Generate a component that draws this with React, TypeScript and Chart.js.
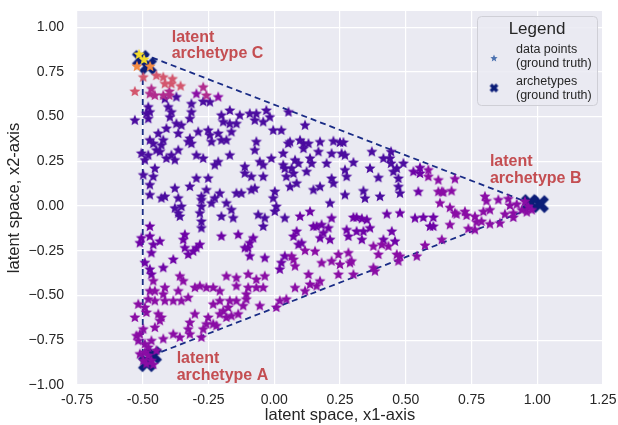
import React, { useEffect, useRef } from 'react';
import { Chart, registerables } from 'chart.js';

Chart.register(...registerables);

type P = [number, number];

// ---------- axes ----------
const xTicks = [-0.75, -0.5, -0.25, 0, 0.25, 0.5, 0.75, 1, 1.25];
const yTicks = [-1, -0.75, -0.5, -0.25, 0, 0.25, 0.5, 0.75, 1];
const xRange: P = [-0.75, 1.25];
const yRange: P = [-1, 1.09];
const xTitle = 'latent space, x1-axis';
const yTitle = 'latent space, x2-axis';

// ---------- archetypes (ground truth) and fitted triangle ----------
const archetypesGT: P[] = [
  [-0.507, 0.822], [-0.48, 0.783],
  [-0.484, -0.878], [-0.461, -0.833],
  [0.972, 0.017], [1.01, 0.011],
];
const triangle: P[] = [[-0.5, 0.85], [1.0, 0.0], [-0.5, -0.855], [-0.5, 0.85]];

// ---------- annotations ----------
const annotationLines = [['latent', 'archetype A'], ['latent', 'archetype B'], ['latent', 'archetype C']];
const annotationX = [-0.371, 0.82, -0.39];
const annotationY = [-0.878, 0.222, 0.917];

// ---------- legend ----------
const legendTitle = 'Legend';
const legendLabels = [['data points', '(ground truth)'], ['archetypes', '(ground truth)']];

// ---------- data points (grouped by colour) ----------
const starsYellow: P[] = [[-0.514, 0.85], [-0.495, 0.822]];
const starsOrange: P[] = [[-0.522, 0.783], [-0.472, 0.783]];
const starsPink: P[] = [
  [-0.498, 0.723], [-0.448, 0.732], [-0.422, 0.723], [-0.387, 0.713], [-0.391, 0.686],
  [-0.356, 0.673], [-0.416, 0.686], [-0.53, 0.643],
];
const starsRose: P[] = [
  [-0.467, 0.658], [-0.473, 0.63], [-0.454, 0.621], [-0.422, 0.621], [-0.399, 0.643],
  [-0.399, 0.621], [-0.27, 0.667], [-0.258, 0.621],
];
const starsIndigo: P[] = [
  [-0.245, 0.584], [-0.27, 0.587], [-0.372, 0.612], [-0.416, 0.602], [-0.479, 0.556],
  [-0.473, 0.528], [-0.486, 0.519], [-0.403, 0.556], [-0.391, 0.528], [-0.397, 0.5],
  [-0.315, 0.574], [-0.315, 0.528], [-0.321, 0.491], [-0.372, 0.463], [-0.353, 0.454],
  [-0.479, 0.491], [-0.53, 0.482], [-0.441, 0.408], [-0.41, 0.436], [-0.365, 0.408],
  [-0.321, 0.38], [-0.289, 0.417], [-0.251, 0.426], [-0.245, 0.399], [-0.239, 0.362],
  [-0.213, 0.408], [-0.201, 0.51], [-0.194, 0.473], [-0.169, 0.537], [-0.169, 0.463],
  [-0.163, 0.417], [-0.182, 0.371], [-0.201, 0.371], [-0.131, 0.51], [-0.144, 0.463],
  [-0.093, 0.519], [-0.068, 0.519], [-0.074, 0.482], [-0.042, 0.473], [-0.03, 0.537],
  [-0.017, 0.5], [-0.004, 0.426], [0.027, 0.426], [-0.473, 0.371], [-0.46, 0.352],
  [-0.429, 0.343], [-0.422, 0.371], [-0.448, 0.315], [-0.435, 0.306], [-0.41, 0.269],
  [-0.391, 0.287], [-0.378, 0.26], [-0.365, 0.315], [-0.327, 0.362], [-0.315, 0.352],
  [-0.296, 0.287], [-0.27, 0.269], [-0.505, 0.297], [-0.479, 0.287], [-0.492, 0.26],
  [-0.454, 0.213], [-0.46, 0.167], [-0.498, 0.176], [-0.473, 0.121], [-0.473, 0.065],
  [-0.213, 0.25], [-0.226, 0.232], [-0.169, 0.287], [-0.112, 0.223], [-0.112, 0.186],
  [-0.087, 0.167], [-0.068, 0.362], [-0.074, 0.315], [-0.055, 0.25], [-0.042, 0.232],
  [-0.042, 0.167], [-0.011, 0.269], [0.04, 0.213], [0.046, 0.167], [0.034, 0.232],
  [0.053, 0.352], [0.034, 0.297], [-0.378, 0.102], [-0.416, 0.056], [-0.429, 0.047],
  [-0.365, 0.047], [-0.378, -0.009], [-0.353, 0.0], [-0.365, -0.037], [-0.359, -0.055],
  [-0.321, 0.112], [-0.296, 0.158], [-0.251, 0.158], [-0.277, 0.056], [-0.277, 0.037],
  [-0.277, 0.0], [-0.283, -0.037], [-0.277, -0.083], [-0.277, -0.12], [-0.258, 0.093],
  [-0.239, 0.019], [-0.226, 0.047], [-0.207, 0.074], [-0.182, 0.019], [-0.201, -0.055],
  [-0.163, -0.018], [-0.156, -0.064], [-0.144, 0.074], [-0.125, 0.074], [-0.087, 0.093],
  [-0.074, 0.102], [-0.061, -0.046], [-0.036, -0.064], [-0.042, -0.111], [0.002, 0.084],
  [-0.004, 0.047], [0.008, 0.0], [0.002, -0.027], [0.04, -0.064],
  [0.117, 0.454], [0.054, 0.528], [0.06, 0.361], [0.098, 0.37], [0.111, 0.352],
  [0.13, 0.352], [0.111, 0.324], [0.174, 0.361], [0.168, 0.306], [0.225, 0.365],
  [0.25, 0.358], [0.263, 0.358], [0.218, 0.296], [0.256, 0.296], [0.269, 0.287],
  [0.079, 0.259], [0.092, 0.241], [0.073, 0.185], [0.085, 0.13], [0.066, 0.213],
  [0.06, 0.111], [0.136, 0.269], [0.142, 0.241], [0.199, 0.241], [0.123, 0.195],
  [0.149, 0.093], [0.174, 0.111], [0.218, 0.157], [0.225, 0.13], [0.269, 0.204],
  [0.275, 0.167], [0.301, 0.246], [0.269, 0.065], [0.212, 0.019], [0.339, 0.087],
  [0.345, 0.046], [0.402, 0.056], [0.364, 0.213], [0.396, 0.161], [0.371, 0.306],
  [0.415, 0.269], [0.444, 0.306], [0.44, 0.269], [0.444, 0.241], [0.453, 0.195],
  [0.466, 0.213], [0.472, 0.157], [0.472, 0.111], [0.478, 0.074], [0.491, 0.241],
];
const starsViolet: P[] = [
  [-0.473, -0.111], [-0.473, -0.166], [-0.505, -0.176], [-0.511, -0.203], [-0.46, -0.213],
  [-0.435, -0.194], [-0.467, -0.259], [-0.34, -0.157], [-0.346, -0.185], [-0.34, -0.231],
  [-0.327, -0.268], [-0.308, -0.25], [-0.296, -0.231], [-0.283, -0.213], [-0.384, -0.296],
  [-0.201, -0.166], [-0.137, -0.157], [-0.08, -0.176], [-0.093, -0.203], [-0.099, -0.231],
  [-0.112, -0.231], [-0.093, -0.277], [-0.036, -0.287], [0.04, -0.277], [-0.492, -0.314],
  [-0.473, -0.351], [-0.467, -0.379], [-0.422, -0.342], [0.021, -0.351], [0.027, -0.314],
  [0.098, -0.055], [0.136, -0.028], [0.085, -0.139], [0.073, -0.167], [0.104, -0.204],
  [0.092, -0.213], [0.149, -0.111], [0.161, -0.111], [0.18, -0.102], [0.187, -0.148],
  [0.174, -0.176], [0.218, -0.065], [0.206, -0.12], [0.212, -0.185], [0.301, -0.061],
  [0.313, -0.061], [0.333, -0.068], [0.352, -0.074], [0.275, -0.13], [0.282, -0.167],
  [0.313, -0.139], [0.339, -0.139], [0.364, -0.12], [0.333, -0.185], [0.428, -0.042],
  [0.478, -0.037], [0.447, -0.139], [0.415, -0.185], [0.459, -0.194], [0.535, -0.065],
  [0.567, -0.061], [0.605, -0.061], [0.592, -0.111], [0.605, -0.111], [0.529, 0.195],
  [0.554, 0.185], [0.554, 0.217], [0.548, 0.083],
];
const starsMagenta: P[] = [
  [-0.296, 0.63], [-0.213, 0.612],
  [-0.46, -0.416], [-0.473, -0.472], [-0.359, -0.389], [-0.346, -0.416], [-0.365, -0.472],
  [-0.327, -0.509], [-0.416, -0.453], [-0.454, -0.472], [-0.422, -0.49], [-0.479, -0.518],
  [-0.492, -0.564], [-0.517, -0.546], [-0.53, -0.62], [-0.486, -0.592], [-0.454, -0.527],
  [-0.416, -0.527], [-0.384, -0.527], [-0.353, -0.527], [-0.302, -0.453], [-0.283, -0.444],
  [-0.258, -0.453], [-0.232, -0.453], [-0.207, -0.472], [-0.182, -0.389], [-0.144, -0.398],
  [-0.144, -0.444], [-0.099, -0.379], [-0.068, -0.407], [-0.036, -0.389], [-0.042, -0.453],
  [-0.068, -0.453], [-0.099, -0.453], [-0.106, -0.49], [-0.106, -0.518], [-0.118, -0.555],
  [-0.144, -0.527], [-0.169, -0.527], [-0.175, -0.564], [-0.194, -0.583], [-0.207, -0.527],
  [-0.232, -0.546], [-0.207, -0.601], [-0.182, -0.62], [-0.251, -0.62], [-0.232, -0.657],
  [-0.258, -0.657], [-0.27, -0.685], [-0.277, -0.731], [-0.302, -0.601], [-0.321, -0.648],
  [-0.327, -0.685], [-0.321, -0.713], [-0.359, -0.731], [-0.384, -0.713], [-0.422, -0.74],
  [-0.441, -0.601], [-0.429, -0.62], [-0.435, -0.638], [-0.454, -0.676], [-0.498, -0.685],
  [-0.511, -0.713], [-0.524, -0.722], [-0.517, -0.75], [-0.492, -0.768], [-0.467, -0.75],
  [-0.479, -0.787], [0.008, -0.564], [0.021, -0.527], [0.046, -0.518], [-0.055, -0.555],
  [-0.137, -0.601], [-0.163, -0.611], [-0.22, -0.666],
  [-0.511, -0.824], [-0.492, -0.815], [-0.479, -0.833], [-0.467, -0.861], [-0.498, -0.861],
  [-0.448, -0.805], [-0.486, -0.879], [-0.46, -0.883],
  [0.117, -0.246], [0.155, -0.25], [0.066, -0.278], [0.073, -0.296], [0.079, -0.333],
  [0.244, -0.268], [0.282, -0.259], [0.288, -0.315], [0.294, -0.305], [0.25, -0.324],
  [0.218, -0.305], [0.18, -0.315], [0.244, -0.38], [0.301, -0.38], [0.377, -0.222],
  [0.409, -0.213], [0.434, -0.222], [0.396, -0.268], [0.377, -0.342], [0.383, -0.361],
  [0.466, -0.268], [0.478, -0.278], [0.472, -0.305], [0.542, -0.278], [0.573, -0.217],
  [0.13, -0.38], [0.136, -0.435], [0.161, -0.444], [0.174, -0.417], [0.117, -0.472],
  [0.079, -0.454], [0.637, -0.185],
  [0.586, 0.204], [0.586, 0.167], [0.624, 0.148], [0.624, 0.083], [0.637, 0.083],
  [0.63, 0.019], [0.687, 0.154], [0.643, 0.08], [0.674, 0.087], [0.668, -0.006],
  [0.687, -0.037], [0.693, -0.043], [0.725, -0.028], [0.731, -0.05], [0.763, -0.056],
  [0.795, -0.028], [0.82, -0.019], [0.801, 0.056], [0.807, 0.031], [0.852, 0.037],
  [0.89, 0.043], [0.896, 0.006], [0.922, 0.013], [0.953, 0.028], [0.966, 0.0],
  [0.941, -0.019], [0.96, -0.031], [0.979, -0.019], [0.877, -0.043], [0.909, -0.037],
  [0.909, -0.061], [0.858, -0.093], [0.82, -0.098], [0.788, -0.083], [0.769, -0.087],
  [0.738, -0.124], [0.763, -0.13], [0.668, -0.102],
];

const FONT = "'Liberation Sans', Arial, Helvetica, sans-serif";
const TEXT = '#262626';
const NAVY = '#0B1D78';
const RED = '#C44E52';

function starCanvas(color: string, r: number): HTMLCanvasElement {
  const size = Math.ceil(r * 2 + 2);
  const c = document.createElement('canvas');
  c.width = size;
  c.height = size;
  const g = c.getContext('2d')!;
  g.translate(size / 2, size / 2 + r * 0.1);
  g.beginPath();
  for (let i = 0; i < 10; i++) {
    const rad = i % 2 === 0 ? r : r * 0.45;
    const ang = -Math.PI / 2 + (i * Math.PI) / 5;
    g.lineTo(rad * Math.cos(ang), rad * Math.sin(ang));
  }
  g.closePath();
  g.fillStyle = color;
  g.fill();
  return c;
}

function xCanvas(color: string, L: number, T: number): HTMLCanvasElement {
  const size = Math.ceil((L / 2 + T / 2) * Math.SQRT2 + 2);
  const c = document.createElement('canvas');
  c.width = size;
  c.height = size;
  const g = c.getContext('2d')!;
  g.translate(size / 2, size / 2);
  g.fillStyle = color;
  for (const a of [Math.PI / 4, -Math.PI / 4]) {
    g.save();
    g.rotate(a);
    g.fillRect(-L / 2, -T / 2, L, T);
    g.restore();
  }
  return c;
}

const toXY = (pts: P[]) => pts.map(([x, y]) => ({ x, y }));

export default function App() {
  const ref = useRef<HTMLCanvasElement | null>(null);

  useEffect(() => {
    document.body.style.margin = '0';
    const canvas = ref.current;
    if (!canvas) return;

    const groups: { pts: P[]; color: string }[] = [
      { pts: starsIndigo, color: '#4B0C9F' },
      { pts: starsViolet, color: '#6D02A6' },
      { pts: starsMagenta, color: '#8A0DA5' },
      { pts: starsRose, color: '#B02C8E' },
      { pts: starsPink, color: '#D3566D' },
      { pts: starsOrange, color: '#F28B44' },
      { pts: starsYellow, color: '#F4DC2C' },
    ];

    const archImg = xCanvas(NAVY, 19, 6.5);

    const datasets: any[] = [
      {
        label: 'triangle',
        data: toXY(triangle),
        showLine: true,
        borderColor: '#1A2C86',
        borderWidth: 1.8,
        borderDash: [6, 4],
        pointRadius: 0,
        fill: false,
        order: 30,
      },
      {
        label: 'archetypes (ground truth)',
        data: toXY(archetypesGT),
        pointStyle: archImg,
        pointRadius: 10,
        order: 20,
      },
      ...groups.map((g, i) => ({
        label: 'data points',
        data: toXY(g.pts),
        pointStyle: starCanvas(g.color, 5.8),
        pointRadius: 5,
        order: 10 - i,
      })),
    ];

    const bgPlugin = {
      id: 'bgPlugin',
      beforeDraw(chart: any) {
        const { ctx, chartArea: a } = chart;
        ctx.save();
        ctx.fillStyle = '#FFFFFF';
        ctx.fillRect(0, 0, chart.width, chart.height);
        ctx.fillStyle = '#EAEAF2';
        ctx.fillRect(a.left, a.top, a.right - a.left, a.bottom - a.top);
        ctx.restore();
      },
    };

    const annotPlugin = {
      id: 'annotPlugin',
      afterDatasetsDraw(chart: any) {
        const { ctx, scales } = chart;
        ctx.save();
        ctx.fillStyle = RED;
        ctx.font = `bold 16px ${FONT}`;
        ctx.textAlign = 'left';
        ctx.textBaseline = 'alphabetic';
        annotationLines.forEach((lines, i) => {
          const px = scales.x.getPixelForValue(annotationX[i]);
          const py = scales.y.getPixelForValue(annotationY[i]);
          lines.forEach((t, j) => ctx.fillText(t, px, py + j * 16.5));
        });
        ctx.restore();
      },
    };

    const legendPlugin = {
      id: 'legendPlugin',
      afterDraw(chart: any) {
        const { ctx, chartArea: a } = chart;
        const w = 120;
        const h = 89;
        const x0 = a.right - 6 - w;
        const y0 = a.top + 5;
        ctx.save();
        ctx.beginPath();
        (ctx as any).roundRect(x0 + 0.5, y0 + 0.5, w, h, 4);
        ctx.fillStyle = 'rgba(234,234,242,0.85)';
        ctx.fill();
        ctx.strokeStyle = '#CFCFD6';
        ctx.lineWidth = 1;
        ctx.stroke();
        ctx.fillStyle = TEXT;
        ctx.font = `17px ${FONT}`;
        ctx.textAlign = 'center';
        ctx.textBaseline = 'alphabetic';
        ctx.fillText(legendTitle, x0 + w / 2 + 0, y0 + 18);
        ctx.font = `12.5px ${FONT}`;
        ctx.textAlign = 'left';
        const textX = x0 + 39;
        const rows = [y0 + 37, y0 + 69];
        legendLabels.forEach((lines, i) => {
          lines.forEach((t, j) => ctx.fillText(t, textX, rows[i] + j * 14));
        });
        const star = starCanvas('#4C72B0', 3.8);
        ctx.drawImage(star, x0 + 17 - star.width / 2, y0 + 42 - star.height / 2);
        const xi = xCanvas(NAVY, 9, 3.4);
        ctx.drawImage(xi, x0 + 17 - xi.width / 2, y0 + 72 - xi.height / 2);
        ctx.restore();
      },
    };

    const tickFont = { family: FONT, size: 14 };

    const chart = new Chart(canvas, {
      type: 'scatter',
      data: { datasets },
      plugins: [bgPlugin, annotPlugin, legendPlugin],
      options: {
        animation: false,
        responsive: false,
        events: [],
        layout: { padding: { left: 0, right: 15, top: 10, bottom: 0 } },
        plugins: { legend: { display: false }, tooltip: { enabled: false } },
        scales: {
          x: {
            type: 'linear',
            min: xRange[0],
            max: xRange[1],
            afterBuildTicks: (s: any) => {
              s.ticks = xTicks.map((v) => ({ value: v }));
            },
            afterFit: (s: any) => {
              s.height = 40;
              s.paddingLeft = 0;
              s.paddingRight = 0;
            },
            grid: { color: '#FFFFFF', lineWidth: 1.2, drawTicks: false },
            border: { display: false },
            ticks: {
              color: TEXT,
              font: tickFont,
              padding: 7,
              maxRotation: 0,
              autoSkip: false,
              callback: (v: any) => Number(v).toFixed(2),
            },
            title: {
              display: true,
              text: xTitle,
              color: TEXT,
              font: { family: FONT, size: 16.5 },
              padding: { top: 0, bottom: 0 },
            },
          },
          y: {
            type: 'linear',
            min: yRange[0],
            max: yRange[1],
            afterBuildTicks: (s: any) => {
              s.ticks = yTicks.map((v) => ({ value: v }));
            },
            afterFit: (s: any) => {
              s.width = 77;
              s.paddingTop = 0;
              s.paddingBottom = 0;
            },
            grid: { color: '#FFFFFF', lineWidth: 1.2, drawTicks: false },
            border: { display: false },
            ticks: {
              color: TEXT,
              font: tickFont,
              padding: 13,
              autoSkip: false,
              callback: (v: any) => Number(v).toFixed(2).replace('-', '\u2212'),
            },
            title: {
              display: true,
              text: yTitle,
              color: TEXT,
              font: { family: FONT, size: 16.5 },
              padding: { top: 5, bottom: 0 },
            },
          },
        },
      },
    } as any);

    return () => chart.destroy();
  }, []);

  return <canvas ref={ref} width={618} height={425} style={{ display: 'block' }} />;
}
